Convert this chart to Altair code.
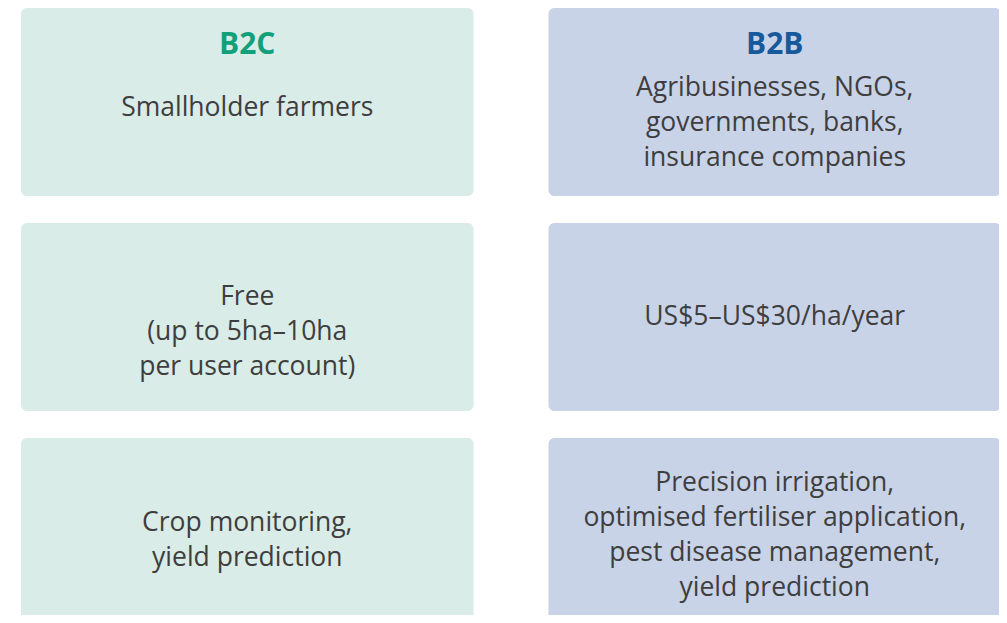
import altair as alt
import pandas as pd

# ---- data ----
columns = ["B2C", "B2B"]
rows = ["Customers", "Pricing", "Services"]
b2c_cells = [
    "Smallholder farmers",
    "Free\n(up to 5ha–10ha\nper user account)",
    "Crop monitoring,\nyield prediction",
]
b2b_cells = [
    "Agribusinesses, NGOs,\ngovernments, banks,\ninsurance companies",
    "US$5–US$30/ha/year",
    "Precision irrigation,\noptimised fertiliser application,\npest disease management,\nyield prediction",
]

cells = pd.DataFrame(
    [{"col": c, "row": r, "text": t}
     for c, texts in zip(columns, [b2c_cells, b2b_cells])
     for r, t in zip(rows, texts)]
)
cells["nlines"] = cells["text"].str.count("\n") + 1
titles = pd.DataFrame({"col": columns, "row": [rows[0]] * len(columns)})

FONT = "Open Sans"
FS = 26.5
LH = 35
fill_colors = ["#DAECE7", "#C9D3E8"]
title_colors = ["#12A07A", "#17599A"]
text_color = "#3E3E3E"
# small vertical nudges (style only)
nudge_lines = {1: 0, 2: 8, 3: 15, 4: 3}
nudge_row = {"Customers": 6, "Pricing": 0, "Services": 0}

W, H = 991, 607
x_scale = alt.Scale(domain=columns, range=[13, 993], paddingInner=0.142, paddingOuter=0)
y_scale = alt.Scale(domain=rows, range=[0, 618], paddingInner=0.1256, paddingOuter=0)
X = alt.X("col:N", scale=x_scale, axis=None)
Y = alt.Y("row:N", scale=y_scale, axis=None)

base = alt.Chart(cells)

boxes = base.mark_rect(cornerRadius=6).encode(
    x=X, y=Y,
    color=alt.Color("col:N", scale=alt.Scale(domain=columns, range=fill_colors), legend=None),
)

text_layers = []
for (r, n) in sorted(set(zip(cells["row"], cells["nlines"]))):
    n = int(n)
    text_layers.append(
        base.transform_filter(f"datum.nlines == {n} && datum.row == '{r}'").mark_text(
            font=FONT, fontSize=FS, color=text_color, lineBreak="\n", lineHeight=LH,
            align="center", baseline="middle",
            dy=-(n - 1) * LH / 2 + nudge_lines.get(n, 0) + nudge_row.get(r, 0),
        ).encode(x=X, y=Y, text="text:N")
    )

heads = alt.Chart(titles).mark_text(
    font=FONT, fontSize=30, fontWeight="bold", align="center", baseline="middle", dy=37,
).encode(
    x=X,
    y=alt.Y("row:N", scale=y_scale, axis=None, bandPosition=0),
    text="col:N",
    color=alt.Color("col:N", scale=alt.Scale(domain=columns, range=title_colors), legend=None),
)

chart = alt.layer(boxes, *text_layers, heads).resolve_scale(color="independent").properties(
    width=W, height=H, padding=0, autosize=alt.AutoSizeParams(type="none"),
).configure_view(stroke=None)

chart.save("out.html", embed_options={"renderer": "svg", "actions": False})
